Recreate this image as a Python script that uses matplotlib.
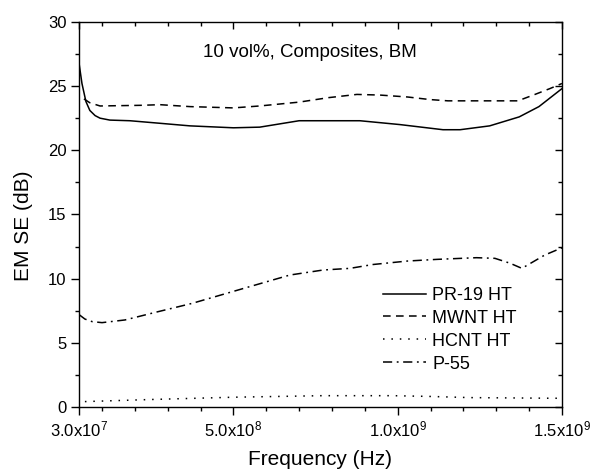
import matplotlib
matplotlib.use("Agg")
import matplotlib.pyplot as plt
from matplotlib.ticker import FixedLocator, MultipleLocator

plt.rcParams['font.family'] = ['Liberation Sans', 'DejaVu Sans']
plt.rcParams['mathtext.fontset'] = 'custom'
plt.rcParams['mathtext.rm'] = 'Liberation Sans'
plt.rcParams['mathtext.it'] = 'Liberation Sans'

# ---- data ----
pr19_f = [3.0e7, 3.9e7, 5.1e7, 6.3e7, 7.9e7, 9.4e7, 1.24e8, 1.85e8, 2.77e8, 3.68e8,
          5.0e8, 5.8e8, 7.0e8, 8.85e8, 1.007e9, 1.138e9, 1.19e9, 1.28e9, 1.37e9,
          1.43e9, 1.5e9]
pr19_v = [26.8, 25.2, 23.8, 23.1, 22.7, 22.5, 22.35, 22.3, 22.1, 21.9,
          21.75, 21.8, 22.3, 22.3, 22.0, 21.6, 21.6, 21.9, 22.6,
          23.4, 24.8]

mwnt_f = [4.5e7, 6.3e7, 9.4e7, 2.16e8, 2.77e8, 3.68e8, 5.0e8, 5.8e8, 7.0e8, 7.9e8,
          8.76e8, 9.46e8, 1.03e9, 1.098e9, 1.153e9, 1.366e9, 1.418e9, 1.463e9, 1.5e9]
mwnt_v = [24.0, 23.7, 23.45, 23.5, 23.55, 23.4, 23.3, 23.45, 23.75, 24.1,
          24.35, 24.3, 24.15, 23.95, 23.85, 23.85, 24.35, 24.8, 25.2]

hcnt_f = [4.8e7, 2.46e8, 5.0e8, 7.7e8, 9.86e8, 1.1e9, 1.22e9, 1.47e9, 1.5e9]
hcnt_v = [0.42, 0.58, 0.76, 0.88, 0.88, 0.82, 0.73, 0.68, 0.68]

p55_f = [3.0e7, 4.8e7, 7.0e7, 1.0e8, 1.7e8, 2.7e8, 3.74e8, 5.26e8, 6.72e8, 7.73e8,
         8.55e8, 9.25e8, 1.03e9, 1.12e9, 1.24e9, 1.296e9, 1.342e9, 1.378e9,
         1.448e9, 1.5e9]
p55_v = [7.2, 6.85, 6.65, 6.57, 6.78, 7.42, 8.07, 9.2, 10.28, 10.67,
         10.8, 11.1, 11.37, 11.5, 11.63, 11.58, 11.2, 10.8,
         11.84, 12.4]

series_labels = ['PR-19 HT', 'MWNT HT', 'HCNT HT', 'P-55']
x_ticks = [3.0e7, 5.0e8, 1.0e9, 1.5e9]
x_tick_labels = ['3.0x10$^{7}$', '5.0x10$^{8}$', '1.0x10$^{9}$', '1.5x10$^{9}$']
x_minor = [1e8, 2e8, 3e8, 4e8, 6e8, 7e8, 8e8, 9e8, 1.1e9, 1.2e9, 1.3e9, 1.4e9]
y_ticks = [0, 5, 10, 15, 20, 25, 30]

# ---- figure ----
fig = plt.figure(figsize=(5.94, 4.76), dpi=100)
ax = fig.add_axes([0.133, 0.145, 0.813, 0.809])

lw = 1.1
ax.plot(pr19_f, pr19_v, color='black', lw=lw, ls='-', label=series_labels[0])
ax.plot(mwnt_f, mwnt_v, color='black', lw=lw, ls=(0, (5, 3.5)), label=series_labels[1])
ax.plot(hcnt_f, hcnt_v, color='black', lw=lw, ls=(0, (1, 4.5)), label=series_labels[2])
ax.plot(p55_f, p55_v, color='black', lw=lw, ls=(0, (6, 3, 1.2, 3)), label=series_labels[3])

ax.set_xlim(3.0e7, 1.5e9)
ax.set_ylim(0, 30)
ax.set_xticks(x_ticks)
ax.set_xticklabels(x_tick_labels, fontsize=12)
ax.xaxis.set_minor_locator(FixedLocator(x_minor))
ax.set_yticks(y_ticks)
ax.set_yticklabels([str(v) for v in y_ticks], fontsize=12)
ax.yaxis.set_minor_locator(MultipleLocator(2.5))

ax.tick_params(which='major', direction='out', length=6, width=1.0, pad=3)
ax.tick_params(which='minor', direction='out', length=3, width=1.0)
for s in ax.spines.values():
    s.set_linewidth(1.0)

secx = ax.secondary_xaxis('top')
secx.set_xticks(x_ticks)
secx.xaxis.set_minor_locator(FixedLocator(x_minor))
secx.tick_params(which='major', direction='in', length=5, width=1.0, labeltop=False)
secx.tick_params(which='minor', direction='in', length=3, width=1.0)
secx.spines['top'].set_visible(False)

secy = ax.secondary_yaxis('right')
secy.set_yticks(y_ticks)
secy.yaxis.set_minor_locator(MultipleLocator(2.5))
secy.tick_params(which='major', direction='in', length=5, width=1.0, labelright=False)
secy.tick_params(which='minor', direction='in', length=3, width=1.0)
secy.spines['right'].set_visible(False)

ax.set_xlabel('Frequency (Hz)', fontsize=15, labelpad=8)
ax.set_ylabel('EM SE (dB)', fontsize=15)
ax.yaxis.set_label_coords(-0.095, 0.47)

ax.text(7.33e8, 27.6, '10 vol%, Composites, BM', fontsize=13.5,
        ha='center', va='center')

leg = ax.legend(loc='upper left', bbox_to_anchor=(0.629, 0.312), frameon=False,
                fontsize=13, handlelength=2.4, handletextpad=0.35,
                labelspacing=0.33, borderpad=0, borderaxespad=0)

fig.savefig('out.png', dpi=100)
